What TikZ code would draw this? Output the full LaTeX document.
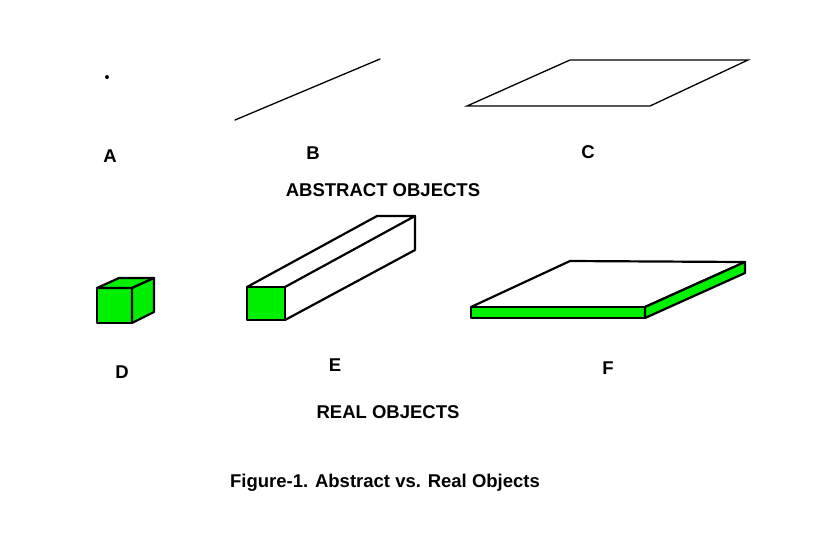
\documentclass[tikz,border=0pt]{standalone}
\usepackage{fontspec}
\setmainfont{Liberation Sans}
\begin{document}
\begin{tikzpicture}[x=1pt,y=-1pt,
  edge/.style={line width=2.2pt,line join=round,line cap=round},
  thin/.style={line width=1.3pt,line cap=round},
  lbl/.style={font=\bfseries\fontsize{18.5}{22}\selectfont,inner sep=0pt}]
\useasboundingbox (0,0) rectangle (840,542);
\definecolor{grn}{RGB}{0,240,0}
% A
\fill (107,77) circle (2);
% B
\draw[thin] (235,120) -- (380,59);
% C
\draw[thin] (467,106) -- (650,106) -- (748,60) -- (570,60) -- cycle;
% D
\filldraw[fill=grn,edge] (97,288) rectangle (132,323);
\filldraw[fill=grn,edge] (97,288) -- (119,278) -- (154,278) -- (132,288) -- cycle;
\filldraw[fill=grn,edge] (132,288) -- (154,278) -- (154,312) -- (132,323) -- cycle;
\draw[line width=0.8pt] (132,288) -- (132,323);
% E
\draw[edge] (247,287) -- (377,216) -- (415,216) -- (285,287);
\draw[edge] (415,216) -- (415,250) -- (285,320);
\filldraw[fill=grn,edge] (247,287) rectangle (285,320);
% F
\draw[edge] (471,307) -- (570,261) -- (745,262) -- (645,307);
\filldraw[fill=grn,edge] (471,307) rectangle (645,318);
\filldraw[fill=grn,edge] (645,307) -- (745,262) -- (745,273) -- (645,318) -- cycle;
% labels
\node[lbl] (la) at (110,156) {A};
\node[lbl] (lb) at (313,153) {B};
\node[lbl] (lc) at (588,152) {C};
\node[lbl] (abs) at (383,190) {ABSTRACT OBJECTS};
\node[lbl] (ld) at (122,372) {D};
\node[lbl] (le) at (335,365) {E};
\node[lbl] (lf) at (608,368) {F};
\node[lbl] (real) at (388,412) {REAL OBJECTS};
\node[lbl] (cap) at (385,483) {Figure-1. Abstract vs. Real Objects};
\end{tikzpicture}
\end{document}
